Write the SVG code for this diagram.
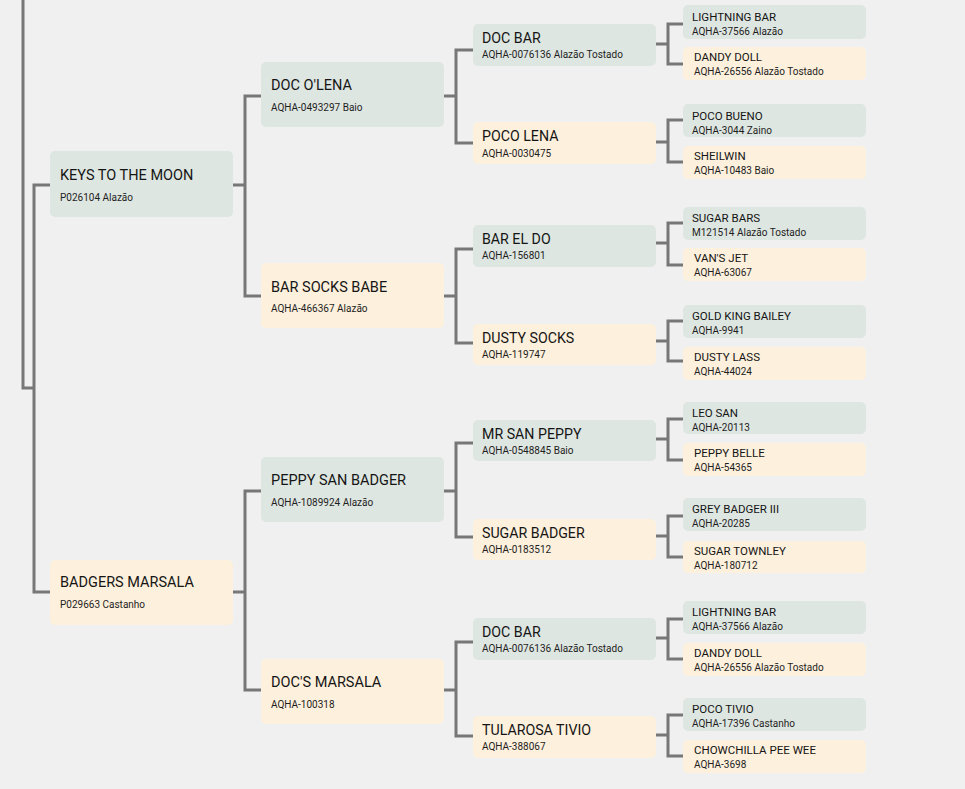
<svg xmlns="http://www.w3.org/2000/svg" width="965" height="789" viewBox="0 0 965 789">
<style>
.bg{fill:#f0f0f0}
.m{fill:#dee6e1}
.f{fill:#fdf0dc}
text{font-family:Roboto,"Liberation Sans",sans-serif;fill:#1e1e1e}
.t1,.t3,.t4{fill:#151515}
.t1{font-size:14.5px}
.s1{font-size:10px}
.t3{font-size:14.2px}
.s3{font-size:10px}
.t4{font-size:11.5px}
.s4{font-size:10px}
.c{fill:none;stroke:#777;stroke-width:3}
</style>
<rect class="bg" x="0" y="0" width="965" height="789"/>
<g id="connectors">
<path class="c" d="M23,0 V388 H34"/>
<path class="c" d="M50,185 H34 V592 H50"/>
<path class="c" d="M233,185 H245"/>
<path class="c" d="M261,96 H245 V296 H261"/>
<path class="c" d="M233,592 H245"/>
<path class="c" d="M261,491 H245 V690 H261"/>
<path class="c" d="M444,96 H456"/>
<path class="c" d="M473,50 H456 V143 H473"/>
<path class="c" d="M444,296 H456"/>
<path class="c" d="M473,249 H456 V343 H473"/>
<path class="c" d="M444,491 H456"/>
<path class="c" d="M473,443 H456 V537 H473"/>
<path class="c" d="M444,690 H456"/>
<path class="c" d="M473,642 H456 V736 H473"/>
<path class="c" d="M656,44 H668"/>
<path class="c" d="M683,24 H668 V64 H683"/>
<path class="c" d="M656,142 H668"/>
<path class="c" d="M683,120 H668 V162 H683"/>
<path class="c" d="M656,243 H668"/>
<path class="c" d="M683,223 H668 V265 H683"/>
<path class="c" d="M656,341 H668"/>
<path class="c" d="M683,321 H668 V361 H683"/>
<path class="c" d="M656,439 H668"/>
<path class="c" d="M683,419 H668 V460 H683"/>
<path class="c" d="M656,536 H668"/>
<path class="c" d="M683,516 H668 V557 H683"/>
<path class="c" d="M656,638 H668"/>
<path class="c" d="M683,619 H668 V659 H683"/>
<path class="c" d="M656,735 H668"/>
<path class="c" d="M683,715 H668 V756 H683"/>
</g>
<g id="keys-to-the-moon"><rect class="m" x="50" y="151" width="183" height="66" rx="5"/><text class="t1" x="60" y="180">KEYS TO THE MOON</text><text class="s1" x="60" y="201">P026104 Alazão</text></g>
<g id="badgers-marsala"><rect class="f" x="50" y="560" width="183" height="65" rx="5"/><text class="t1" x="60" y="587">BADGERS MARSALA</text><text class="s1" x="60" y="608">P029663 Castanho</text></g>
<g id="doc-olena"><rect class="m" x="261" y="62" width="183" height="65" rx="5"/><text class="t1" x="271" y="90">DOC O'LENA</text><text class="s1" x="271" y="110.5">AQHA-0493297 Baio</text></g>
<g id="bar-socks-babe"><rect class="f" x="261" y="263" width="183" height="65" rx="5"/><text class="t1" x="271" y="291.5">BAR SOCKS BABE</text><text class="s1" x="271" y="311.5">AQHA-466367 Alazão</text></g>
<g id="peppy-san-badger"><rect class="m" x="261" y="457" width="183" height="65" rx="5"/><text class="t1" x="271" y="485">PEPPY SAN BADGER</text><text class="s1" x="271" y="505.5">AQHA-1089924 Alazão</text></g>
<g id="docs-marsala"><rect class="f" x="261" y="659" width="183" height="65" rx="5"/><text class="t1" x="271" y="687">DOC'S MARSALA</text><text class="s1" x="271" y="707.5">AQHA-100318</text></g>
<g id="doc-bar-1"><rect class="m" x="473" y="24" width="183" height="42" rx="5"/><text class="t3" x="482" y="43">DOC BAR</text><text class="s3" x="482" y="57.5">AQHA-0076136 Alazão Tostado</text></g>
<g id="poco-lena"><rect class="f" x="473" y="122" width="183" height="42" rx="5"/><text class="t3" x="482" y="141">POCO LENA</text><text class="s3" x="482" y="156.5">AQHA-0030475</text></g>
<g id="bar-el-do"><rect class="m" x="473" y="225" width="183" height="42" rx="5"/><text class="t3" x="482" y="244">BAR EL DO</text><text class="s3" x="482" y="259">AQHA-156801</text></g>
<g id="dusty-socks"><rect class="f" x="473" y="324" width="183" height="41" rx="5"/><text class="t3" x="482" y="343">DUSTY SOCKS</text><text class="s3" x="482" y="358">AQHA-119747</text></g>
<g id="mr-san-peppy"><rect class="m" x="473" y="420" width="183" height="41" rx="5"/><text class="t3" x="482" y="439">MR SAN PEPPY</text><text class="s3" x="482" y="454">AQHA-0548845 Baio</text></g>
<g id="sugar-badger"><rect class="f" x="473" y="519" width="183" height="41" rx="5"/><text class="t3" x="482" y="538">SUGAR BADGER</text><text class="s3" x="482" y="553">AQHA-0183512</text></g>
<g id="doc-bar-2"><rect class="m" x="473" y="618" width="183" height="42" rx="5"/><text class="t3" x="482" y="637">DOC BAR</text><text class="s3" x="482" y="652">AQHA-0076136 Alazão Tostado</text></g>
<g id="tularosa-tivio"><rect class="f" x="473" y="716" width="183" height="42" rx="5"/><text class="t3" x="482" y="735">TULAROSA TIVIO</text><text class="s3" x="482" y="750">AQHA-388067</text></g>
<g id="lightning-bar-1"><rect class="m" x="683" y="5" width="183" height="34" rx="5"/><text class="t4" x="692" y="21">LIGHTNING BAR</text><text class="s4" x="692" y="35">AQHA-37566 Alazão</text></g>
<g id="dandy-doll-1"><rect class="f" x="683" y="47" width="183" height="33" rx="5"/><text class="t4" x="694" y="61">DANDY DOLL</text><text class="s4" x="694" y="75">AQHA-26556 Alazão Tostado</text></g>
<g id="poco-bueno"><rect class="m" x="683" y="104" width="183" height="33" rx="5"/><text class="t4" x="692" y="120">POCO BUENO</text><text class="s4" x="692" y="134">AQHA-3044 Zaino</text></g>
<g id="sheilwin"><rect class="f" x="683" y="146" width="183" height="33" rx="5"/><text class="t4" x="694" y="160">SHEILWIN</text><text class="s4" x="694" y="174">AQHA-10483 Baio</text></g>
<g id="sugar-bars"><rect class="m" x="683" y="207" width="183" height="33" rx="5"/><text class="t4" x="692" y="222">SUGAR BARS</text><text class="s4" x="692" y="236">M121514 Alazão Tostado</text></g>
<g id="vans-jet"><rect class="f" x="683" y="248" width="183" height="33" rx="5"/><text class="t4" x="694" y="262">VAN'S JET</text><text class="s4" x="694" y="276">AQHA-63067</text></g>
<g id="gold-king-bailey"><rect class="m" x="683" y="305" width="183" height="33" rx="5"/><text class="t4" x="692" y="320">GOLD KING BAILEY</text><text class="s4" x="692" y="334">AQHA-9941</text></g>
<g id="dusty-lass"><rect class="f" x="683" y="347" width="183" height="33" rx="5"/><text class="t4" x="694" y="361">DUSTY LASS</text><text class="s4" x="694" y="375">AQHA-44024</text></g>
<g id="leo-san"><rect class="m" x="683" y="402" width="183" height="32" rx="5"/><text class="t4" x="692" y="417">LEO SAN</text><text class="s4" x="692" y="431">AQHA-20113</text></g>
<g id="peppy-belle"><rect class="f" x="683" y="443" width="183" height="33" rx="5"/><text class="t4" x="694" y="457">PEPPY BELLE</text><text class="s4" x="694" y="471">AQHA-54365</text></g>
<g id="grey-badger-iii"><rect class="m" x="683" y="498" width="183" height="33" rx="5"/><text class="t4" x="692" y="513">GREY BADGER III</text><text class="s4" x="692" y="527">AQHA-20285</text></g>
<g id="sugar-townley"><rect class="f" x="683" y="541" width="183" height="32" rx="5"/><text class="t4" x="694" y="555">SUGAR TOWNLEY</text><text class="s4" x="694" y="569">AQHA-180712</text></g>
<g id="lightning-bar-2"><rect class="m" x="683" y="601" width="183" height="33" rx="5"/><text class="t4" x="692" y="616">LIGHTNING BAR</text><text class="s4" x="692" y="630">AQHA-37566 Alazão</text></g>
<g id="dandy-doll-2"><rect class="f" x="683" y="643" width="183" height="33" rx="5"/><text class="t4" x="694" y="657">DANDY DOLL</text><text class="s4" x="694" y="671">AQHA-26556 Alazão Tostado</text></g>
<g id="poco-tivio"><rect class="m" x="683" y="698" width="183" height="33" rx="5"/><text class="t4" x="692" y="713">POCO TIVIO</text><text class="s4" x="692" y="727">AQHA-17396 Castanho</text></g>
<g id="chowchilla-pee-wee"><rect class="f" x="683" y="740" width="183" height="33" rx="5"/><text class="t4" x="694" y="754">CHOWCHILLA PEE WEE</text><text class="s4" x="694" y="768">AQHA-3698</text></g>
</svg>
